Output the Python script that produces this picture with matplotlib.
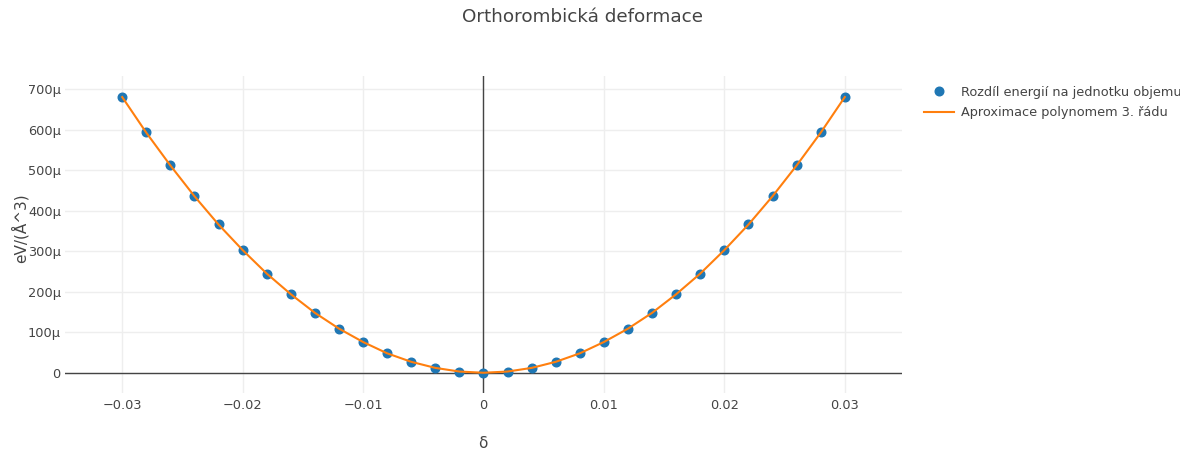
import matplotlib
matplotlib.use("Agg")
import matplotlib.pyplot as plt
from matplotlib.ticker import FixedLocator, FuncFormatter

plt.rcParams['font.family'] = ['DejaVu Sans']

# deformace a rozdil energie na jednotku objemu (eV/A^3)
delta = [-0.030, -0.028, -0.026, -0.024, -0.022, -0.020, -0.018, -0.016,
         -0.014, -0.012, -0.010, -0.008, -0.006, -0.004, -0.002, 0.000,
         0.002, 0.004, 0.006, 0.008, 0.010, 0.012, 0.014, 0.016,
         0.018, 0.020, 0.022, 0.024, 0.026, 0.028, 0.030]
energy_u = [681, 594, 512, 436, 367, 303, 245, 194,
            148, 109, 76, 48, 27, 12, 3, 0,
            3, 12, 27, 48, 76, 109, 148, 194,
            245, 303, 367, 436, 512, 594, 681]
fit_u = [681, 593, 512, 436, 366, 303, 245, 194,
         148, 109, 76, 48, 27, 12, 3, 0,
         3, 12, 27, 48, 76, 109, 148, 194,
         245, 303, 366, 436, 512, 593, 681]
energy = [v * 1e-6 for v in energy_u]
fit = [v * 1e-6 for v in fit_u]

x_ticks = [-0.03, -0.02, -0.01, 0, 0.01, 0.02, 0.03]
y_ticks = [0, 100e-6, 200e-6, 300e-6, 400e-6, 500e-6, 600e-6, 700e-6]

W, H = 1180, 454
fig = plt.figure(figsize=(W / 100, H / 100), dpi=100)
L, R, T, B = 65, 902, 76, 393
ax = fig.add_axes([L / W, 1 - B / H, (R - L) / W, (B - T) / H])

grid_c = '#eeeeee'
text_c = '#444444'

ax.set_xlim(-0.03475, 0.03475)
ax.set_ylim(-50e-6, 733e-6)
for s in ax.spines.values():
    s.set_visible(False)

ax.xaxis.set_major_locator(FixedLocator(x_ticks))
ax.yaxis.set_major_locator(FixedLocator(y_ticks))
ax.xaxis.set_major_formatter(FuncFormatter(
    lambda v, p: '0' if abs(v) < 1e-9 else f'{v:.2f}'.replace('-', '\u2212')))
ax.yaxis.set_major_formatter(FuncFormatter(
    lambda v, p: '0' if abs(v) < 1e-12 else f'{v * 1e6:.0f}\u03bc'))
ax.tick_params(length=0, labelsize=9.3, labelcolor=text_c)
ax.tick_params(axis='x', pad=4)
ax.tick_params(axis='y', pad=3)
ax.grid(True, color=grid_c, linewidth=1)
ax.set_axisbelow(True)

# nulove osy
ax.axhline(0, color=text_c, linewidth=1, zorder=1)
ax.axvline(0, color=text_c, linewidth=1, zorder=1)

ax.plot(delta, energy, 'o', color='#1f77b4', markersize=6.2,
        label='Rozdíl energií na jednotku objemu', zorder=3)
ax.plot(delta, fit, '-', color='#ff7f0e', linewidth=1.5,
        label='Aproximace polynomem 3. řádu', zorder=4)

fig.text(583 / W, 1 - 17 / H, 'Orthorombická deformace', ha='center', va='center',
         fontsize=13.2, color=text_c)
fig.text(483 / W, 1 - 443 / H, 'δ', ha='center', va='center',
         fontsize=11, color=text_c)
fig.text(20 / W, 1 - 228 / H, 'eV/(Å^3)', ha='center', va='center',
         rotation=90, fontsize=11, color=text_c)

fig.legend(loc='upper left', bbox_to_anchor=(924 / W, 1 - 86 / H),
           frameon=False, fontsize=9.3, labelcolor=text_c,
           handlelength=2.3, handletextpad=0.55, labelspacing=0.55,
           borderaxespad=0, borderpad=0)

fig.savefig('out.png', dpi=100)
